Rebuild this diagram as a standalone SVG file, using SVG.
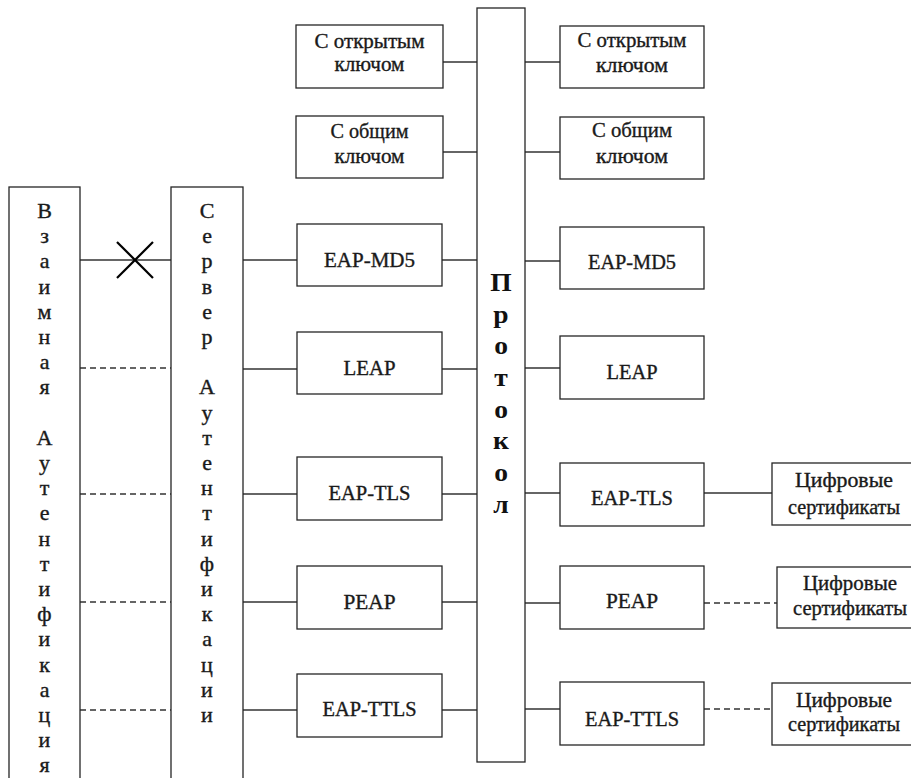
<svg xmlns="http://www.w3.org/2000/svg" width="911" height="778" viewBox="0 0 911 778" font-family="'Liberation Serif', 'Times New Roman', serif">
<style>
.box{fill:#fff;stroke:#262626;stroke-width:1.3}
.ln{stroke:#333;stroke-width:1.3;fill:none}
.dash{stroke:#333;stroke-width:1.5;stroke-dasharray:6,4;fill:none}
.cross{stroke:#000;stroke-width:2.2}
.t{font-size:20px;fill:#1a1a1a;stroke:#1a1a1a;stroke-width:0.35;text-anchor:middle}
.v{font-size:20px;fill:#1a1a1a;stroke:#1a1a1a;stroke-width:0.35;text-anchor:middle}
.p{font-size:25px;font-weight:bold;fill:#111;text-anchor:middle}
</style>
<rect width="911" height="778" fill="#fff"/>
<g id="connectors">
  <line class="ln" x1="80" y1="260" x2="171" y2="260"/>
  <line class="cross" x1="117" y1="242" x2="153" y2="278"/>
  <line class="cross" x1="153" y1="242" x2="117" y2="278"/>
  <line class="dash" x1="80" y1="368" x2="171" y2="368"/>
  <line class="dash" x1="80" y1="494" x2="171" y2="494"/>
  <line class="dash" x1="80" y1="602" x2="171" y2="602"/>
  <line class="dash" x1="80" y1="710" x2="171" y2="710"/>
  <line class="ln" x1="243" y1="260" x2="297" y2="260"/>
  <line class="ln" x1="243" y1="369" x2="297" y2="369"/>
  <line class="ln" x1="243" y1="494" x2="297" y2="494"/>
  <line class="ln" x1="243" y1="602" x2="297" y2="602"/>
  <line class="ln" x1="243" y1="710" x2="297" y2="710"/>
  <line class="ln" x1="443" y1="62" x2="477" y2="62"/>
  <line class="ln" x1="443" y1="152" x2="477" y2="152"/>
  <line class="ln" x1="442" y1="260" x2="477" y2="260"/>
  <line class="ln" x1="442" y1="369" x2="477" y2="369"/>
  <line class="ln" x1="442" y1="494" x2="477" y2="494"/>
  <line class="ln" x1="442" y1="602" x2="477" y2="602"/>
  <line class="ln" x1="442" y1="710" x2="477" y2="710"/>
  <line class="ln" x1="525" y1="62" x2="560" y2="62"/>
  <line class="ln" x1="525" y1="152" x2="560" y2="152"/>
  <line class="ln" x1="525" y1="261" x2="560" y2="261"/>
  <line class="ln" x1="525" y1="368" x2="560" y2="368"/>
  <line class="ln" x1="525" y1="493" x2="560" y2="493"/>
  <line class="ln" x1="525" y1="603" x2="560" y2="603"/>
  <line class="ln" x1="525" y1="709" x2="560" y2="709"/>
  <line class="ln" x1="704" y1="493" x2="772" y2="493"/>
  <line class="dash" x1="704" y1="603" x2="777" y2="603"/>
  <line class="dash" x1="704" y1="709" x2="772" y2="709"/>
</g>
<g id="mutual-auth">
  <rect class="box" x="9" y="187" width="71" height="620"/>
  <text class="v" transform="translate(44.5,0) scale(1.1,1)"><tspan x="0" y="218">В</tspan><tspan x="0" y="243.2">з</tspan><tspan x="0" y="268.4">а</tspan><tspan x="0" y="293.6">и</tspan><tspan x="0" y="318.8">м</tspan><tspan x="0" y="344">н</tspan><tspan x="0" y="369.2">а</tspan><tspan x="0" y="394.4">я</tspan><tspan x="0" y="444.8">А</tspan><tspan x="0" y="470">у</tspan><tspan x="0" y="495.2">т</tspan><tspan x="0" y="520.4">е</tspan><tspan x="0" y="545.6">н</tspan><tspan x="0" y="570.8">т</tspan><tspan x="0" y="596">и</tspan><tspan x="0" y="621.2">ф</tspan><tspan x="0" y="646.4">и</tspan><tspan x="0" y="671.6">к</tspan><tspan x="0" y="696.8">а</tspan><tspan x="0" y="722">ц</tspan><tspan x="0" y="747.2">и</tspan><tspan x="0" y="772.4">я</tspan></text>
</g>
<g id="auth-server">
  <rect class="box" x="171" y="187" width="72" height="620"/>
  <text class="v" transform="translate(207,0) scale(1.1,1)"><tspan x="0" y="218">С</tspan><tspan x="0" y="243.2">е</tspan><tspan x="0" y="268.4">р</tspan><tspan x="0" y="293.6">в</tspan><tspan x="0" y="318.8">е</tspan><tspan x="0" y="344">р</tspan><tspan x="0" y="394.4">А</tspan><tspan x="0" y="419.6">у</tspan><tspan x="0" y="444.8">т</tspan><tspan x="0" y="470">е</tspan><tspan x="0" y="495.2">н</tspan><tspan x="0" y="520.4">т</tspan><tspan x="0" y="545.6">и</tspan><tspan x="0" y="570.8">ф</tspan><tspan x="0" y="596">и</tspan><tspan x="0" y="621.2">к</tspan><tspan x="0" y="646.4">а</tspan><tspan x="0" y="671.6">ц</tspan><tspan x="0" y="696.8">и</tspan><tspan x="0" y="722">и</tspan></text>
</g>
<g id="protocol">
  <rect class="box" x="477" y="8" width="48" height="754"/>
  <text class="p" transform="translate(501,0) scale(1.1,1)"><tspan x="0" y="291">П</tspan><tspan x="0" y="322.7">р</tspan><tspan x="0" y="354.4">о</tspan><tspan x="0" y="386">т</tspan><tspan x="0" y="417.8">о</tspan><tspan x="0" y="449.5">к</tspan><tspan x="0" y="481">о</tspan><tspan x="0" y="513">л</tspan></text>
</g>
<g id="l-public">
  <rect class="box" x="296" y="25" width="147" height="63"/>
  <text class="t" x="369.5" y="48" textLength="110" lengthAdjust="spacingAndGlyphs">С открытым</text>
  <text class="t" x="369.5" y="71" textLength="70" lengthAdjust="spacingAndGlyphs">ключом</text>
</g>
<g id="l-shared">
  <rect class="box" x="296" y="116" width="147" height="62"/>
  <text class="t" x="369.5" y="138" textLength="78" lengthAdjust="spacingAndGlyphs">С общим</text>
  <text class="t" x="369.5" y="163" textLength="70" lengthAdjust="spacingAndGlyphs">ключом</text>
</g>
<g id="l-md5">
  <rect class="box" x="297" y="224" width="145" height="62"/>
  <text class="t" x="369.5" y="267" textLength="91" lengthAdjust="spacingAndGlyphs">EAP-MD5</text>
</g>
<g id="l-leap">
  <rect class="box" x="297" y="332" width="145" height="62"/>
  <text class="t" x="369.5" y="375" textLength="52" lengthAdjust="spacingAndGlyphs">LEAP</text>
</g>
<g id="l-tls">
  <rect class="box" x="297" y="457" width="145" height="63"/>
  <text class="t" x="369.5" y="500" textLength="82" lengthAdjust="spacingAndGlyphs">EAP-TLS</text>
</g>
<g id="l-peap">
  <rect class="box" x="297" y="566" width="145" height="63"/>
  <text class="t" x="369.5" y="609" textLength="52" lengthAdjust="spacingAndGlyphs">PEAP</text>
</g>
<g id="l-ttls">
  <rect class="box" x="297" y="674" width="145" height="63"/>
  <text class="t" x="369.5" y="716" textLength="94" lengthAdjust="spacingAndGlyphs">EAP-TTLS</text>
</g>
<g id="r-public">
  <rect class="box" x="560" y="26" width="144" height="62"/>
  <text class="t" x="632" y="47" textLength="109" lengthAdjust="spacingAndGlyphs">С открытым</text>
  <text class="t" x="632" y="72" textLength="72" lengthAdjust="spacingAndGlyphs">ключом</text>
</g>
<g id="r-shared">
  <rect class="box" x="560" y="117" width="144" height="62"/>
  <text class="t" x="632" y="137" textLength="80" lengthAdjust="spacingAndGlyphs">С общим</text>
  <text class="t" x="632" y="163" textLength="72" lengthAdjust="spacingAndGlyphs">ключом</text>
</g>
<g id="r-md5">
  <rect class="box" x="560" y="227" width="144" height="62"/>
  <text class="t" x="632" y="269" textLength="88" lengthAdjust="spacingAndGlyphs">EAP-MD5</text>
</g>
<g id="r-leap">
  <rect class="box" x="560" y="336" width="144" height="63"/>
  <text class="t" x="632" y="379" textLength="51" lengthAdjust="spacingAndGlyphs">LEAP</text>
</g>
<g id="r-tls">
  <rect class="box" x="560" y="463" width="144" height="63"/>
  <text class="t" x="632" y="505" textLength="82" lengthAdjust="spacingAndGlyphs">EAP-TLS</text>
</g>
<g id="r-peap">
  <rect class="box" x="560" y="566" width="144" height="63"/>
  <text class="t" x="632" y="608" textLength="52" lengthAdjust="spacingAndGlyphs">PEAP</text>
</g>
<g id="r-ttls">
  <rect class="box" x="560" y="682" width="144" height="63"/>
  <text class="t" x="632" y="726" textLength="94" lengthAdjust="spacingAndGlyphs">EAP-TTLS</text>
</g>
<g id="cert-1">
  <rect class="box" x="772" y="463" width="144" height="62"/>
  <text class="t" x="844" y="487" textLength="98" lengthAdjust="spacingAndGlyphs">Цифровые</text>
  <text class="t" x="844" y="514" textLength="112" lengthAdjust="spacingAndGlyphs">сертификаты</text>
</g>
<g id="cert-2">
  <rect class="box" x="777" y="567" width="144" height="61"/>
  <text class="t" x="850" y="590" textLength="94" lengthAdjust="spacingAndGlyphs">Цифровые</text>
  <text class="t" x="850" y="615" textLength="114" lengthAdjust="spacingAndGlyphs">сертификаты</text>
</g>
<g id="cert-3">
  <rect class="box" x="772" y="683" width="144" height="62"/>
  <text class="t" x="844" y="707" textLength="96" lengthAdjust="spacingAndGlyphs">Цифровые</text>
  <text class="t" x="844" y="731" textLength="112" lengthAdjust="spacingAndGlyphs">сертификаты</text>
</g>
</svg>
